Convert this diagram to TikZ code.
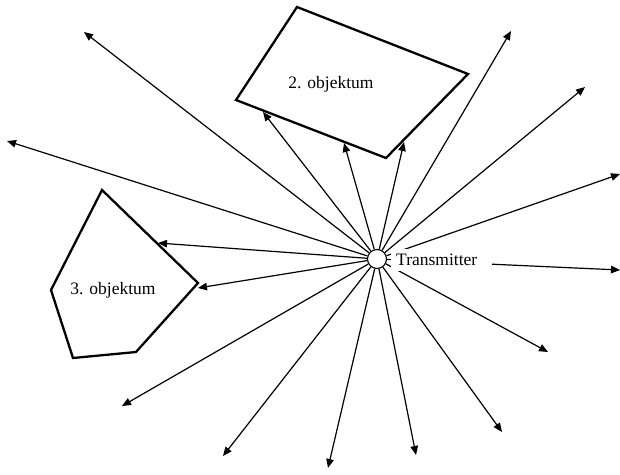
\documentclass[tikz,border=0pt]{standalone}
\usepackage{fontspec}
\setmainfont{Liberation Serif}
\usetikzlibrary{arrows.meta}
\begin{document}
\begin{tikzpicture}[x=1pt,y=-1pt,
  ray/.style={line width=1.2pt,-{Triangle[length=9pt,width=7.5pt]}},
  obj/.style={line width=2.3pt,line join=miter},
  lbl/.style={font=\fontsize{17.5}{20}\selectfont,inner sep=0pt}]
\useasboundingbox (0,0) rectangle (620,474);
% transmitter
\node[circle,draw,line width=1.1pt,minimum size=19pt,inner sep=0pt] (c) at (377,259) {};
% ray end points
\coordinate (e1) at (84,32);
\coordinate (e2) at (7,141);
\coordinate (e3) at (158,243);
\coordinate (e4) at (198,288);
\coordinate (e5) at (122,406);
\coordinate (e6) at (223,456);
\coordinate (e7) at (328,468);
\coordinate (e8) at (416,455);
\coordinate (e9) at (502,432);
\coordinate (e10) at (548,352);
\coordinate (e11) at (620,270);
\coordinate (e12) at (620,174);
\coordinate (e13) at (585,87);
\coordinate (e14) at (511,31);
\coordinate (e15) at (404,142);
\coordinate (e16) at (344,143);
\coordinate (e17) at (263,112);
\foreach \i in {1,...,17} \draw[ray] (c) -- (e\i);
% label box covering the rays
\node[lbl,fill=white,minimum height=22pt,text width=91pt,inner xsep=5pt,align=left,anchor=west] (tx) at (391,260) {Transmitter};
% 2. objektum
\coordinate (a1) at (297,7);
\coordinate (a2) at (468,74);
\coordinate (a3) at (386,158);
\coordinate (a4) at (236,100);
\draw[obj] (a1) -- (a2) -- (a3) -- (a4) -- cycle;
\node[lbl] (o2) at (331,84) {2. objektum};
% 3. objektum
\coordinate (b1) at (102,190);
\coordinate (b2) at (198,283);
\coordinate (b3) at (136,352);
\coordinate (b4) at (73,358);
\coordinate (b5) at (51,290);
\draw[obj] (b1) -- (b2) -- (b3) -- (b4) -- (b5) -- cycle;
\node[lbl] (o3) at (113,290) {3. objektum};
\end{tikzpicture}
\end{document}
